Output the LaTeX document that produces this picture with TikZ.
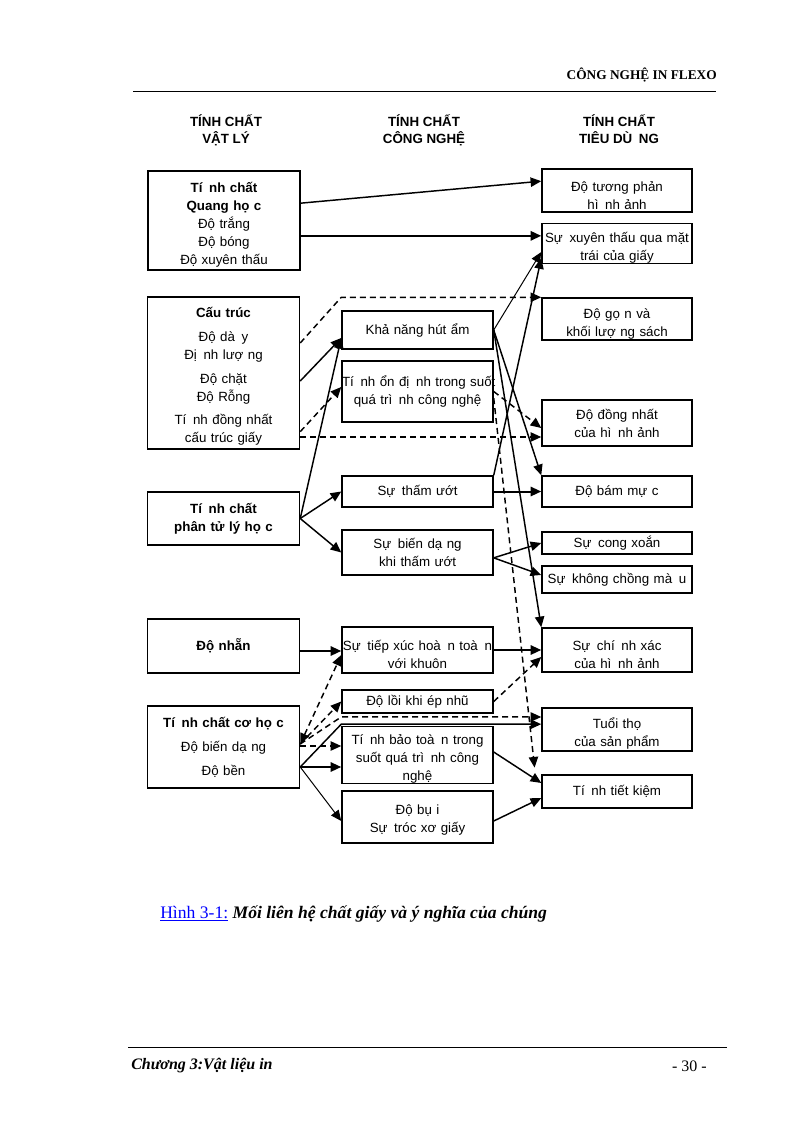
\documentclass[tikz,border=0pt]{standalone}
\usepackage{fontspec}
\setmainfont{Liberation Serif}
\newfontfamily\arial{Liberation Sans}
\usetikzlibrary{arrows.meta}
\newcommand{\gapp}{\hspace{0.5em}}
\newcommand{\dn}[1]{\rule{0pt}{#1}}

\begin{document}
\begin{tikzpicture}[
    x=0.75pt,
    y=-0.75pt,
    >={Triangle[length=8pt,width=7pt]},
    every node/.style={font=\arial\fontsize{10pt}{13.5pt}\selectfont},
    box/.style={draw=black, line width=1.1pt, inner sep=0pt, align=center},
    lbox/.style={box, text width=114pt},
    mbox/.style={box, text width=113.25pt},
    rbox/.style={box, text width=112.5pt},
    coltitle/.style={font=\arial\bfseries\fontsize{10pt}{12.75pt}\selectfont, align=center},
    plain/.style={inner sep=0pt},
    link/.style={->, line width=1.1pt},
    thicklink/.style={link, line width=1.5pt},
    thinlink/.style={link, line width=0.75pt},
    dashlink/.style={link, dash pattern=on 4.5pt off 3pt}
  ]
    \useasboundingbox (0,0) rectangle (793,1122);
    \node[plain, anchor=east, font=\bfseries\fontsize{10pt}{12pt}\selectfont] (hdr) at (717,75) {CÔNG NGHỆ IN FLEXO};
    \draw[line width=0.75pt] (133,91) -- (716,91);
    \node[coltitle] (t1) at (226,130) {TÍNH CHẤT\\VẬT LÝ};
    \node[coltitle] (t2) at (424,130) {TÍNH CHẤT\\CÔNG NGHỆ};
    \node[coltitle] (t3) at (619,129.5) {TÍNH CHẤT\\TIÊU DÙ\gapp NG};
    \node[lbox, minimum height=74.25pt] (l1) at (224,220.5) {\dn{14pt}\textbf{Tí\gapp nh chất}\\\textbf{Quang họ c}\\Độ trắng\\Độ bóng\\Độ xuyên thấu};
    \node[lbox, minimum height=114pt] (l2) at (223.5,373) {\dn{13pt}\textbf{Cấu trúc}\\[4.5pt]Độ dà\gapp y\\Đị\gapp nh lượ ng\\[4pt]Độ chặt\\Độ Rỗng\\[4pt]Tí\gapp nh đồng nhất\\cấu trúc giấy};
    \node[lbox, minimum height=39.75pt] (l3) at (223.5,518.5) {\textbf{Tí\gapp nh chất}\\\textbf{phân tử lý họ c}};
    \node[lbox, minimum height=40.5pt] (l4) at (223.5,646) {\textbf{Độ nhẵn}};
    \node[lbox, minimum height=61.5pt] (l5) at (223.5,747) {\textbf{Tí\gapp nh chất cơ họ c}\\[4.5pt]Độ biến dạ ng\\[4.5pt]Độ bền};
    \node[mbox, minimum height=28.5pt] (m1) at (417.5,330) {Khả năng hút ẩm};
    \node[mbox, minimum height=45.75pt] (m2) at (417.5,391.5) {\mbox{Tí\gapp nh ổn đị\gapp nh trong suốt}\\quá trì\gapp nh công nghệ};
    \node[mbox, minimum height=23.25pt] (m3) at (417.5,491.5) {Sự\gapp thấm ướt};
    \node[mbox, minimum height=33.75pt] (m4) at (417.5,552.5) {Sự\gapp biến dạ ng\\khi thấm ướt};
    \node[mbox, minimum height=34.5pt] (m5) at (417.5,650) {\dn{14pt}\mbox{Sự\gapp tiếp xúc hoà\gapp n toà\gapp n}\\với khuôn};
    \node[mbox, minimum height=17.25pt] (m6) at (417.5,701.5) {Độ lồi khi ép nhũ};
    \node[mbox, minimum height=40.5pt] (m7) at (417.5,755) {\dn{14pt}\mbox{Tí\gapp nh bảo toà\gapp n trong}\\\mbox{suốt quá trì\gapp nh công}\\nghệ};
    \node[mbox, minimum height=39pt] (m8) at (417.5,817) {\dn{12pt}Độ bụ i\\Sự\gapp tróc xơ giấy};
    \node[rbox, minimum height=32.25pt] (r1) at (617,190.5) {\dn{14.5pt}Độ tương phản\\hì\gapp nh ảnh};
    \node[rbox, minimum height=29.25pt] (r2) at (617,243.5) {\dn{14.5pt}\mbox{Sự\gapp xuyên thấu qua mặt}\\trái của giấy};
    \node[rbox, minimum height=31.5pt] (r3) at (617,319) {\dn{14.5pt}Độ gọ n và\\khối lượ ng sách};
    \node[rbox, minimum height=34.5pt] (r4) at (617,423) {Độ đồng nhất\\của hì\gapp nh ảnh};
    \node[rbox, minimum height=23.25pt] (r5) at (617,491.5) {Độ bám mự c};
    \node[rbox, minimum height=16.5pt] (r6) at (617,543) {Sự\gapp cong xoắn};
    \node[rbox, minimum height=20.25pt] (r7) at (617,579.5) {\mbox{Sự\gapp không chồng mà\gapp u}};
    \node[rbox, minimum height=33pt] (r8) at (617,650) {\dn{15pt}Sự\gapp chí\gapp nh xác\\của hì\gapp nh ảnh};
    \node[rbox, minimum height=32.25pt] (r9) at (617,729.5) {\dn{13.5pt}Tuổi thọ\\của sản phẩm};
    \node[rbox, minimum height=24.75pt] (r10) at (617,791.5) {Tí\gapp nh tiết kiệm};
    \coordinate (l1a) at ([yshift=13pt]l1.east);
    \coordinate (l1b) at ([yshift=-11.5pt]l1.east);
    \coordinate (l2a) at ([yshift=22.5pt]l2.east);
    \coordinate (l2b) at ([yshift=-6pt]l2.east);
    \coordinate (l2c) at ([yshift=-44pt]l2.east);
    \coordinate (l2d) at ([yshift=-48pt]l2.east);
    \coordinate (l4a) at ([yshift=-3.75pt]l4.east);
    \coordinate (l5a) at ([yshift=2.25pt]l5.east);
    \coordinate (l5b) at ([yshift=0.75pt]l5.east);
    \coordinate (l5c) at ([yshift=-15pt]l5.east);
    \coordinate (m1in) at ([yshift=-6pt]m1.west);
    \coordinate (r9a) at ([yshift=9.4pt]r9.west);
    \coordinate (r9b) at ([yshift=4pt]r9.west);
    \draw[link] (l1a) -- ([yshift=7pt]r1.west);
    \draw[thicklink] (l1b) -- (l1b -| r2.west);
    \draw[dashlink] (l2a) -- (m1.west |- r3.north) -- (r3.north west);
    \draw[link] (l2b) -- (m1in);
    \draw[dashlink] (l2c) -- ([yshift=3.4pt]m2.west);
    \draw[dashlink] (l2d) -- (l2d -| r4.west);
    \draw[link] (l3.east) -- (m1in);
    \draw[link] (l3.east) -- (m3.west);
    \draw[link] (l3.east) -- (m4.west);
    \draw[thinlink] (m1.east) -- ([yshift=-6.4pt]r2.west);
    \draw[link] (m3.north east) -- ([yshift=-11pt]r2.west);
    \draw[link] (m1.east) -- (r5.north west);
    \draw[link] (m1.east) -- (r8.north west);
    \draw[dashlink] (m2.east) -- ([yshift=-3.75pt]r4.west);
    \draw[dashlink] ([yshift=-5pt]m2.east) -- ([xshift=-5pt,yshift=5pt]r10.north west);
    \draw[thicklink] (m3.east) -- (r5.west);
    \draw[link] ([yshift=-4pt]m4.east) -- (r6.west);
    \draw[link] ([yshift=-4pt]m4.east) -- ([yshift=3.4pt]r7.west);
    \draw[thicklink] (l4a) -- (l4a -| m5.west);
    \draw[thicklink] (m5.east) -- (r8.west);
    \draw[dashlink] (m6.east) -- ([yshift=-5.25pt]r8.west);
    \draw[dashlink, <->] (l5a) -- ([yshift=-3.75pt]m5.west);
    \draw[dashlink] (l5a) -- (m6.west);
    \draw[dashlink] (l5b) -- (l5b -| m7.west);
    \draw[dashlink] (l5a) -- (r9a -| m7.west) -- (r9a);
    \draw[link] (l5c) -- (r9b -| m7.west) -- (r9b);
    \draw[thicklink] (l5c) -- (l5c -| m7.west);
    \draw[thinlink] (l5c) -- ([yshift=-3pt]m8.west);
    \draw[link] ([yshift=2.25pt]m7.east) -- ([yshift=6.4pt]r10.west);
    \draw[link] ([yshift=-3pt]m8.east) -- ([yshift=-4.9pt]r10.west);
    \node[plain, anchor=west, font=\fontsize{13.2pt}{15pt}\selectfont] (cap) at (160,914) {\textcolor{blue}{\underline{Hình 3-1:}}\textbf{\textit{ Mối liên hệ chất giấy và ý nghĩa của chúng}}};
    \draw[line width=0.75pt] (128,1047) -- (727,1047);
    \node[plain, anchor=west, font=\bfseries\itshape\fontsize{12pt}{14pt}\selectfont] (chap) at (131,1066) {Chương 3:Vật liệu in};
    \node[plain, anchor=east, font=\fontsize{12pt}{14pt}\selectfont] (pg) at (707,1066) {- 30 -};
  \end{tikzpicture}
\end{document}
